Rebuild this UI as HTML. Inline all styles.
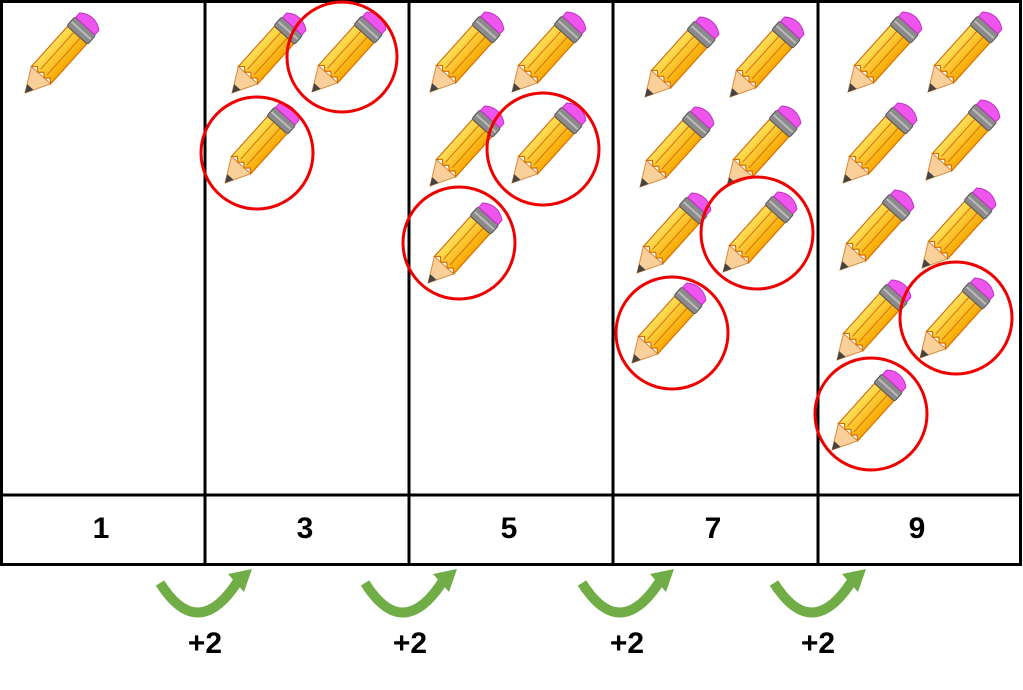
<!DOCTYPE html>
<html><head><style>body{margin:0;background:#fff}svg{display:block}</style></head><body>
<svg width="1023" height="690" viewBox="0 0 1023 690" xmlns="http://www.w3.org/2000/svg">
<defs>
<linearGradient id="y" x1="0" y1="-13" x2="0" y2="13" gradientUnits="userSpaceOnUse"><stop offset="0" stop-color="#ffe15a"/><stop offset="1" stop-color="#f7a800"/></linearGradient>
<g id="p">
<polygon points="0,0 24,-13 24,13" fill="#f9cf9a" stroke="#d98a3a" stroke-width="1"/>
<polygon points="0,0 8,-4.3 8,4.3" fill="#444"/>
<path d="M24,-13 L78,-13 L78,13 L24,13 L28,8.5 L24,4.3 L28,0 L24,-4.3 L28,-8.5 Z" fill="url(#y)" stroke="#d4700a" stroke-width="1.2"/>
<line x1="28" y1="-4.3" x2="78" y2="-4.3" stroke="#d4700a" stroke-width="1"/>
<line x1="28" y1="4.3" x2="78" y2="4.3" stroke="#d4700a" stroke-width="1"/>
<rect x="78" y="-14" width="12" height="28" rx="2" fill="#8a8a8a" stroke="#555" stroke-width="1"/>
<line x1="84" y1="-13" x2="84" y2="13" stroke="#bbb" stroke-width="2"/>
<path d="M90,-13 L96,-13 Q101,-7 101,0 Q101,7 96,13 L90,13 Z" fill="#ee55ee" stroke="#c030c0" stroke-width="1"/>
</g>
<g id="ar"><path d="M0,0 Q38,60 78,-2" fill="none" stroke="#70ad47" stroke-width="10"/><polygon points="68,-9 92,-14 84,9" fill="#70ad47"/></g>
</defs>
<g stroke="#000" stroke-width="3" fill="none">
<rect x="1.5" y="1.5" width="1019" height="563"/>
<line x1="1" y1="495" x2="1021" y2="495"/>
<line x1="205" y1="0" x2="205" y2="565"/><line x1="409" y1="0" x2="409" y2="565"/><line x1="613" y1="0" x2="613" y2="565"/><line x1="818" y1="0" x2="818" y2="565"/>
</g>
<g font-family="Liberation Sans, sans-serif" font-weight="bold" font-size="30" text-anchor="middle">
<text x="101" y="538">1</text><text x="305" y="538">3</text><text x="509" y="538">5</text><text x="713" y="538">7</text><text x="917" y="538">9</text>
<text x="205" y="653">+2</text><text x="410" y="653">+2</text><text x="627" y="653">+2</text><text x="818" y="653">+2</text>
</g>
<use href="#ar" x="160" y="583"/><use href="#ar" x="365" y="583"/><use href="#ar" x="582" y="583"/><use href="#ar" x="774" y="583"/>
<g>
<use href="#p" transform="translate(25,93) rotate(-48)"/>
<use href="#p" transform="translate(232,93) rotate(-48)"/><use href="#p" transform="translate(312,92) rotate(-48)"/><use href="#p" transform="translate(225,183) rotate(-48)"/>
<use href="#p" transform="translate(430,92) rotate(-48)"/><use href="#p" transform="translate(512,92) rotate(-48)"/><use href="#p" transform="translate(430,186) rotate(-48)"/><use href="#p" transform="translate(512,183) rotate(-48)"/><use href="#p" transform="translate(428,283) rotate(-48)"/>
<use href="#p" transform="translate(645,97) rotate(-48)"/><use href="#p" transform="translate(730,97) rotate(-48)"/><use href="#p" transform="translate(640,187) rotate(-48)"/><use href="#p" transform="translate(727,186) rotate(-48)"/><use href="#p" transform="translate(637,273) rotate(-48)"/><use href="#p" transform="translate(723,272) rotate(-48)"/><use href="#p" transform="translate(632,363) rotate(-48)"/>
<use href="#p" transform="translate(848,92) rotate(-48)"/><use href="#p" transform="translate(928,92) rotate(-48)"/><use href="#p" transform="translate(843,183) rotate(-48)"/><use href="#p" transform="translate(926,180) rotate(-48)"/><use href="#p" transform="translate(840,270) rotate(-48)"/><use href="#p" transform="translate(922,268) rotate(-48)"/><use href="#p" transform="translate(837,360) rotate(-48)"/><use href="#p" transform="translate(920,358) rotate(-48)"/><use href="#p" transform="translate(832,450) rotate(-48)"/>
</g>
<g fill="none" stroke="#e00" stroke-width="3">
<circle cx="342" cy="57" r="55"/><circle cx="257" cy="153" r="56"/>
<circle cx="543" cy="149" r="56"/><circle cx="459" cy="243" r="56"/>
<circle cx="757" cy="233" r="56"/><circle cx="672" cy="333" r="56"/>
<circle cx="956" cy="318" r="56"/><circle cx="871" cy="414" r="56"/>
</g>
</svg>
</body></html>
